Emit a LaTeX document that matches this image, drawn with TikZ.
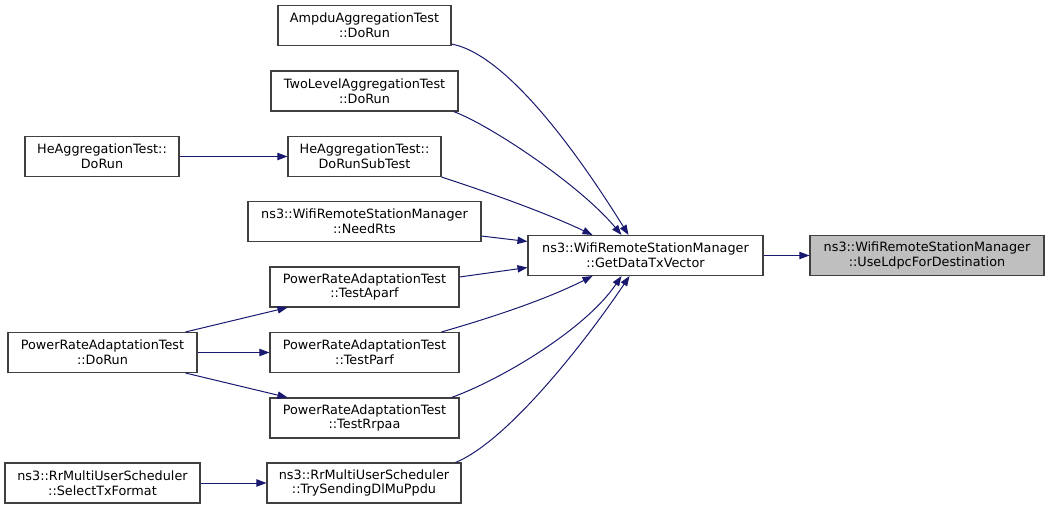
\documentclass[tikz,border=0pt]{standalone}
\usepackage{fontspec}
\setmainfont{DejaVu Sans}
\usetikzlibrary{arrows.meta,calc}
\definecolor{edgecol}{HTML}{191970}
\definecolor{boxborder}{HTML}{404040}
\definecolor{hlfill}{HTML}{BFBFBF}
\begin{document}
\begin{tikzpicture}[x=0.75pt,y=-0.75pt,
  fn/.style={draw=boxborder,line width=0.8pt,fill=white,align=center,inner sep=0pt,
    minimum height=30pt,font=\fontsize{9.6}{11.2}\selectfont},
  hl/.style={fn,fill=hlfill},
  call/.style={draw=edgecol,line width=0.75pt,-{Triangle[length=7.5pt,width=5.5pt]}}]
\useasboundingbox (0,0) rectangle (1049,509);
\node[fn,minimum width=129.75pt] (ampdu) at (364.5,25.5) {AmpduAggregationTest\\::DoRun};
\node[fn,minimum width=140.25pt] (twolevel) at (364.5,91) {TwoLevelAggregationTest\\::DoRun};
\node[fn,minimum width=114.75pt] (hesub) at (364.5,156.5) {HeAggregationTest::\\DoRunSubTest};
\node[fn,minimum width=115.5pt] (herun) at (102,156.5) {HeAggregationTest::\\DoRun};
\node[fn,minimum width=174.75pt] (needrts) at (364.5,221.5) {ns3::WifiRemoteStationManager\\::NeedRts};
\node[fn,minimum width=141.75pt] (aparf) at (364.5,287) {PowerRateAdaptationTest\\::TestAparf};
\node[fn,minimum width=141.75pt] (parf) at (364.5,352.5) {PowerRateAdaptationTest\\::TestParf};
\node[fn,minimum width=141.75pt] (rrpaa) at (364.5,418) {PowerRateAdaptationTest\\::TestRrpaa};
\node[fn,minimum width=145.5pt] (trysend) at (364,483) {ns3::RrMultiUserScheduler\\::TrySendingDlMuPpdu};
\node[fn,minimum width=141.75pt] (pradorun) at (102.5,352.5) {PowerRateAdaptationTest\\::DoRun};
\node[fn,minimum width=146.25pt] (selecttx) at (102.5,483) {ns3::RrMultiUserScheduler\\::SelectTxFormat};
\node[fn,minimum width=176.25pt] (getdata) at (645.5,255.5) {ns3::WifiRemoteStationManager\\::GetDataTxVector};
\node[hl,minimum width=175.5pt] (useldpc) at (927,255.5) {ns3::WifiRemoteStationManager\\::UseLdpcForDestination};

\draw[call] (getdata.east) -- (useldpc.west);
\draw[call] ($(ampdu.south east)+(0,-2)$) .. controls (510,55) and (585,165) .. ($(getdata.north)+(-17,0)$);
\draw[call] ($(twolevel.south east)+(-5,0)$) .. controls (490,125) and (580,185) .. ($(getdata.north)+(-24,0)$);
\draw[call] (hesub.south east) .. controls (475,188) and (540,210) .. ($(getdata.north)+(-53,0)$);
\draw[call] ($(needrts.south east)+(0,-6)$) -- ($(getdata.west)+(0,-14)$);
\draw[call] ($(aparf.east)+(0,-10)$) -- ($(getdata.west)+(0,12)$);
\draw[call] ($(parf.north east)+(-18,0)$) .. controls (490,318) and (545,300) .. ($(getdata.south)+(-53,0)$);
\draw[call] ($(rrpaa.north east)+(-8,0)$) .. controls (500,380) and (585,330) .. ($(getdata.south)+(-24,0)$);
\draw[call] ($(trysend.north east)+(-6,0)$) .. controls (510,440) and (590,335) .. ($(getdata.south)+(-16,0)$);
\draw[call] (herun.east) -- (hesub.west);
\draw[call] ($(pradorun.north east)+(-12,0)$) -- ($(aparf.south west)+(18,0)$);
\draw[call] (pradorun.east) -- (parf.west);
\draw[call] ($(pradorun.south east)+(-12,0)$) -- ($(rrpaa.north west)+(18,0)$);
\draw[call] (selecttx.east) -- (trysend.west);
\end{tikzpicture}
\end{document}
